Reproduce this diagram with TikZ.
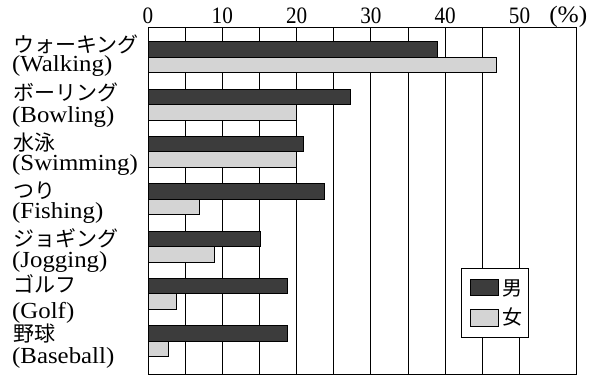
\documentclass[tikz,border=0pt]{standalone}
\usepackage{fontspec}
\setmainfont{Liberation Serif}
\newfontfamily\jpfont{Noto Sans CJK JP}
\newfontfamily\enfont[FakeStretch=1.08]{Liberation Serif}
\newfontfamily\numfont[FakeStretch=0.9]{Liberation Serif}
\definecolor{darkfill}{HTML}{3C3C3C}
\definecolor{lightfill}{HTML}{D4D4D4}
\begin{document}
\begin{tikzpicture}[x=1pt,y=-1pt,
  gridline/.style={line width=0.9pt},
  darkbar/.style={fill=darkfill,draw=black,line width=0.7pt},
  lightbar/.style={fill=lightfill,draw=black,line width=0.8pt},
  jplabel/.style={anchor=base west,inner sep=0pt,font=\jpfont\fontsize{21}{23}\selectfont},
  enlabel/.style={anchor=base west,inner sep=0pt,font=\enfont\fontsize{23}{25}\selectfont},
  ticklabel/.style={anchor=base,inner sep=0pt,font=\numfont\fontsize{23.5}{25}\selectfont},
  legendtext/.style={anchor=center,inner sep=0pt,font=\jpfont\fontsize{20}{22}\selectfont}]
\useasboundingbox (0,0) rectangle (607,377);
% frame and grid
\draw[gridline] (148,27.5) -- (576,27.5) -- (576,374.3) -- (148,374.3) -- cycle;
\foreach \v in {5,10,...,50}{
  \draw[gridline] ({148+7.43*\v},27.5) -- ({148+7.43*\v},374.3);
}
% tick labels
\foreach \v in {0,10,20,30,40,50}{
  \node[ticklabel] (tick\v) at ({148+7.43*\v},23.3) {\v};
}
\node[ticklabel,font=\enfont\fontsize{23.5}{25}\selectfont] (pct) at (568.3,22.3) {(\%)};
% bars and labels
\foreach \i/\jp/\en/\d/\l/\jb/\eb in {
  0/ウォーキング/{(Walking)}/38.9/46.9/52.7/71.9,
  1/ボーリング/{(Bowling)}/27.2/20/100.7/122.9,
  2/水泳/{(Swimming)}/20.9/20/150.7/170.4,
  3/つり/{(Fishing)}/23.7/6.9/198/218.9,
  4/ジョギング/{(Jogging)}/15.1/8.9/246.7/267.4,
  5/ゴルフ/{(Golf)}/18.8/3.8/292.7/318.9,
  6/野球/{(Baseball)}/18.8/2.7/341.7/363.9}{
  \pgfmathsetmacro\T{41.7+47.3*\i}
  \draw[darkbar] (148,\T) rectangle ({148+7.43*\d},{\T+15.5});
  \draw[lightbar] (148,{\T+15.5}) rectangle ({148+7.43*\l},{\T+31});
  \node[jplabel] (jp\i) at (13,\jb) {\jp};
  \node[enlabel] (en\i) at (12,\eb) {\en};
}
% legend
\draw[fill=white,line width=0.9pt] (461.7,268.3) rectangle (528.3,337.3);
\draw[darkbar] (470,279.3) rectangle (498.3,295.7);
\draw[lightbar] (470,309.3) rectangle (498.3,326);
\node[legendtext] (male) at (512.5,288) {男};
\node[legendtext] (female) at (512.5,317) {女};
\end{tikzpicture}
\end{document}
